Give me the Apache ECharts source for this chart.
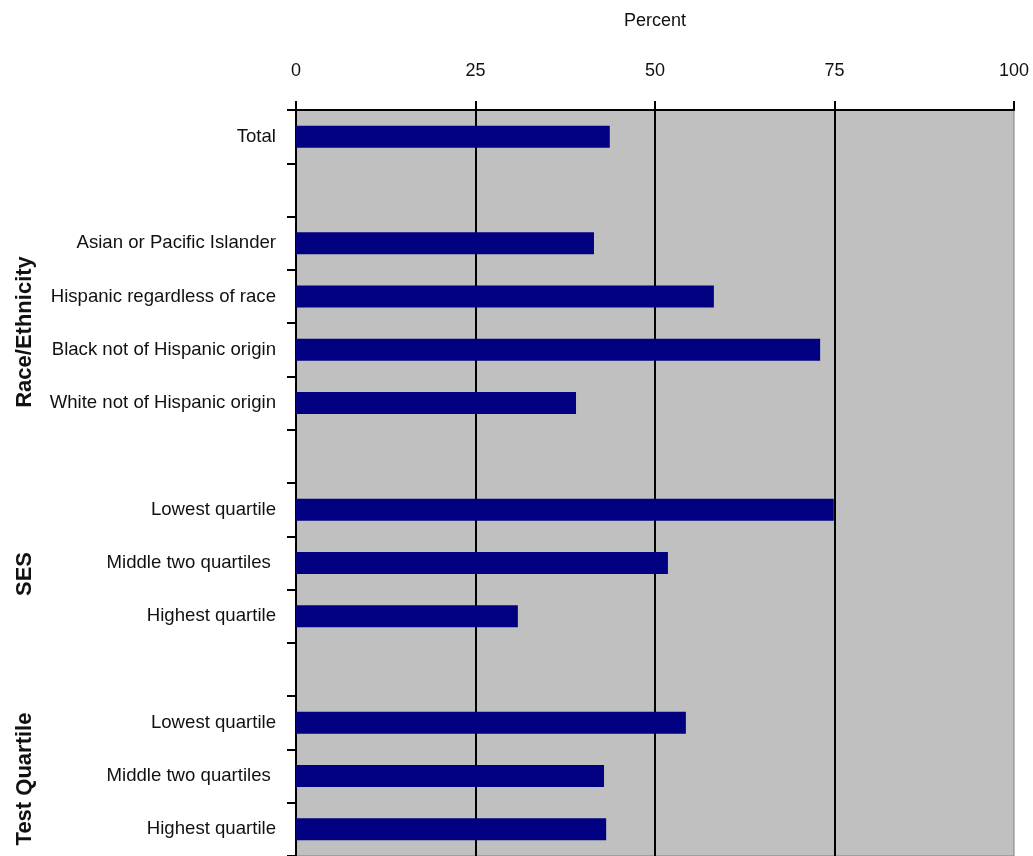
<!DOCTYPE html>
<html>
<head>
<meta charset="utf-8">
<script src="https://cdn.jsdelivr.net/npm/echarts@6/dist/echarts.min.js"></script>
<style>
html,body{margin:0;padding:0;background:#fff;}
#chart{width:1033px;height:856px;}
</style>
</head>
<body>
<div id="chart"></div>
<script>
const categories = ['Total', '', 'Asian or Pacific Islander', 'Hispanic regardless of race', 'Black not of Hispanic origin', 'White not of Hispanic origin', '', 'Lowest quartile', 'Middle two quartiles ', 'Highest quartile', '', 'Lowest quartile', 'Middle two quartiles ', 'Highest quartile'];
const values = [43.7, null, 41.5, 58.2, 73.0, 39.0, null, 74.9, 51.8, 30.9, null, 54.3, 42.9, 43.2];
const groupLabels = ['Race/Ethnicity', 'SES', 'Test Quartile'];
const xTicks = [0, 25, 50, 75, 100];
const axisTitle = 'Percent';

const FONT = '"Liberation Sans Narrow", "Arial Narrow", "Liberation Sans", Arial, sans-serif';
const chart = echarts.init(document.getElementById('chart'), null, {renderer: 'canvas'});
const groupPos = [[25, 332], [25, 574], [25, 779]];

chart.setOption({
  animation: false,
  backgroundColor: '#ffffff',
  grid: {
    left: 296, right: 19, top: 110, bottom: 0,
    outerBoundsMode: 'none', containLabel: false,
    show: true, backgroundColor: '#C0C0C0', borderColor: '#808080', borderWidth: 1
  },
  xAxis: {
    type: 'value', position: 'top',
    min: xTicks[0], max: xTicks[xTicks.length - 1], interval: 25,
    name: axisTitle, nameLocation: 'middle', nameGap: 80,
    nameTextStyle: {fontFamily: FONT, fontSize: 18, color: '#111'},
    axisLine: {show: true, lineStyle: {color: '#000', width: 2}},
    axisTick: {show: true, inside: false, length: 9, lineStyle: {color: '#000', width: 2}},
    axisLabel: {fontFamily: FONT, fontSize: 18, color: '#111', margin: 30},
    splitLine: {show: true, showMinLine: false, showMaxLine: false, lineStyle: {color: '#000', width: 2}}
  },
  yAxis: {
    type: 'category', inverse: true, data: categories,
    axisLine: {show: true, lineStyle: {color: '#000', width: 2}},
    axisTick: {show: true, length: 9, interval: 0, lineStyle: {color: '#000', width: 2}},
    axisLabel: {interval: 0, fontFamily: FONT, fontSize: 18.6, color: '#111', margin: 20},
    splitLine: {show: false}
  },
  series: [{
    type: 'bar', data: values, barWidth: 22,
    itemStyle: {color: '#000080'}
  }],
  graphic: groupLabels.map((t, i) => ({
    type: 'text', x: groupPos[i][0], y: groupPos[i][1], rotation: Math.PI / 2,
    style: {text: t, fontFamily: FONT, fontWeight: 'bold', fontSize: 22, fill: '#111',
            textAlign: 'center', textVerticalAlign: 'middle'}
  }))
});
</script>
</body>
</html>
